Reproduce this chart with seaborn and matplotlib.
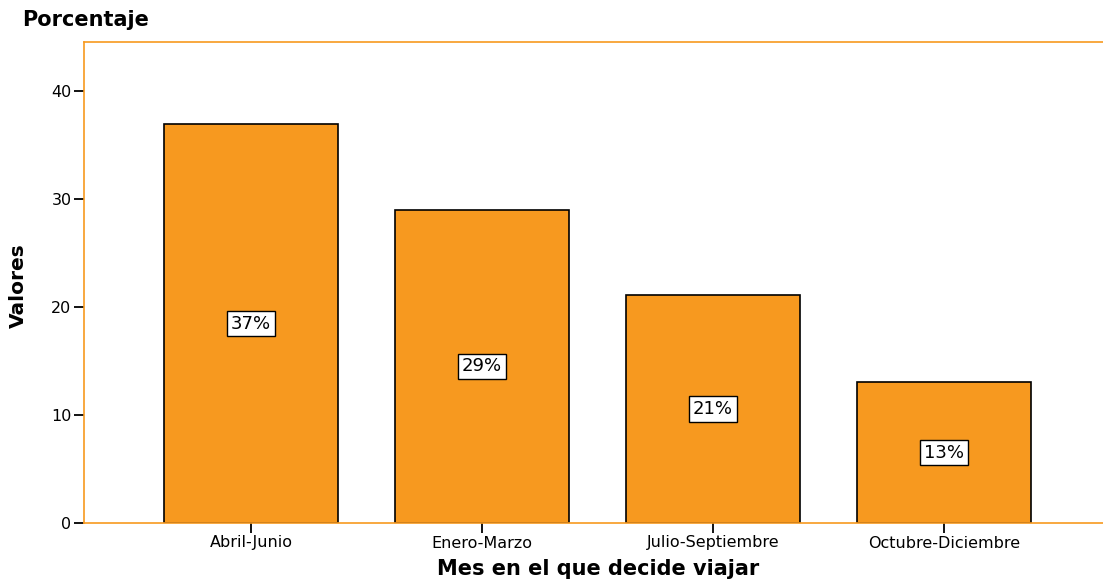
import matplotlib
matplotlib.use("Agg")
import matplotlib.pyplot as plt
import seaborn as sns
import pandas as pd

# Share of travellers by the period in which they decide to travel
periodos = ["Abril-Junio", "Enero-Marzo", "Julio-Septiembre", "Octubre-Diciembre"]
valores = [36.9, 29.0, 21.1, 13.0]
etiquetas = ["37%", "29%", "21%", "13%"]

sns.set_theme(style="white")
plt.rcParams["font.family"] = ["DejaVu Sans"]
plt.rcParams["text.color"] = "black"

naranja = "#F7991F"

df = pd.DataFrame({"Periodo": periodos, "Valor": valores})

W, H = 1103, 580
fig = plt.figure(figsize=(W / 100, H / 100), dpi=100)
ax = fig.add_axes([84 / W, 1 - 523 / H, (1111 - 84) / W, (523 - 42) / H])

sns.barplot(data=df, x="Periodo", y="Valor", color=naranja, saturation=1,
            width=0.75, edgecolor="black", linewidth=1.2, ax=ax)

ax.set_xlim(-0.723, 3.723)
ax.set_ylim(0, 44.5)
ax.set_yticks([0, 10, 20, 30, 40])

for sp in ax.spines.values():
    sp.set_color(naranja)
    sp.set_linewidth(1.2)

ax.tick_params(axis="both", which="major", direction="out", length=7, width=1.3,
               color="black", labelsize=11.5, labelcolor="black", pad=2)
ax.tick_params(axis="x", bottom=True)
ax.tick_params(axis="y", left=True)

ax.set_xlabel("")
ax.set_ylabel("")

# value labels centred in each bar
for i, (v, t) in enumerate(zip(valores, etiquetas)):
    ax.text(i, v / 2, t, ha="center", va="center", fontsize=13, color="black",
            bbox=dict(boxstyle="square,pad=0.2", facecolor="white", edgecolor="black", linewidth=1))

fig.text(22 / W, 1 - 20 / H, "Porcentaje", fontsize=15, fontweight="bold",
         ha="left", va="center", color="black")
fig.text(598 / W, 1 - 569 / H, "Mes en el que decide viajar", fontsize=15,
         fontweight="bold", ha="center", va="center", color="black")
fig.text(18 / W, 1 - 286 / H, "Valores", fontsize=14.5, fontweight="bold",
         rotation=90, ha="center", va="center", color="black")

fig.savefig("out.png", dpi=100)
